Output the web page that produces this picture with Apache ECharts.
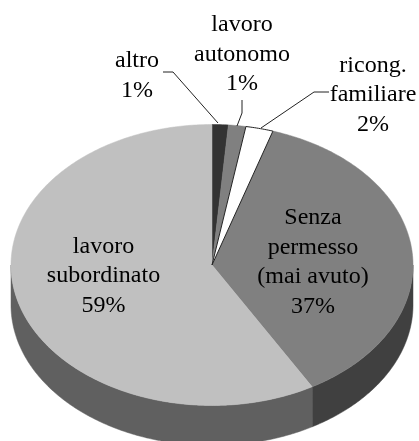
<!DOCTYPE html>
<html><head><meta charset="utf-8">
<style>html,body{margin:0;padding:0;background:#fff}#c{width:419px;height:441px}</style>
<script src="https://cdn.jsdelivr.net/npm/echarts@6/dist/echarts.min.js"></script></head>
<body><div id="c"></div>
<script>
const categories = ['altro','lavoro\nautonomo','ricong.\nfamiliare','Senza\npermesso\n(mai avuto)','lavoro\nsubordinato'];
const values = [1.3,1.4,2.2,36.8,58.3];
const percentLabels = ['1%','1%','2%','37%','59%'];
const topColors = ['#333333','#808080','#ffffff','#808080','#c0c0c0'];
const sideColors = ['#1a1a1a','#404040','#808080','#404040','#606060'];
const labelAt = [[137,75.5],[242,54.5],[373,95],[313,262],[103.5,276]];
const leaders = [[[163,72],[173,72],[218,123]],[[242,100],[242,113],[237,126]],[[329,92],[314,92],[261,128]],null,null];

const cx=212, cy=265, rx=201, ry=140.5, depth=40;
const total = values.reduce((a,b)=>a+b,0);
const pt=(t,dy=0)=>[cx+rx*Math.sin(t), cy-ry*Math.cos(t)+dy];
function arc(a,b,dy=0){const n=Math.max(2,Math.ceil((b-a)*90));const r=[];for(let i=0;i<=n;i++)r.push(pt(a+(b-a)*i/n,dy));return r;}

function renderItem(params,api){
  const i=params.dataIndex;
  let sum=0; for(let k=0;k<i;k++) sum+=values[k];
  const a=sum/total*2*Math.PI, b=(sum+values[i])/total*2*Math.PI;
  const kids=[];
  const wa=Math.max(a,Math.PI/2), wb=Math.min(b,Math.PI*1.5);
  if(wb>wa){
    kids.push({type:'polygon',z2:1,shape:{points:arc(wa,wb).concat(arc(wa,wb,depth).reverse())},style:{fill:sideColors[i],stroke:sideColors[i],lineWidth:0.5}});
  }
  const isWhite=topColors[i]==='#ffffff';
  kids.push({type:'polygon',z2:isWhite?4:3,shape:{points:[[cx,cy]].concat(arc(a,b))},style:{fill:topColors[i],stroke:isWhite?'#222':topColors[i],lineWidth:isWhite?1:0.5}});
  if(leaders[i]) kids.push({type:'polyline',z2:5,shape:{points:leaders[i]},style:{fill:null,stroke:'#222',lineWidth:1}});
  kids.push({type:'text',z2:6,style:{x:labelAt[i][0],y:labelAt[i][1],text:categories[i]+'\n'+percentLabels[i],align:'center',verticalAlign:'middle',fill:'#000',font:'24px "Liberation Serif"',lineHeight:29.5}});
  return {type:'group',children:kids};
}
const chart=echarts.init(document.getElementById('c'),null,{renderer:'canvas'});
chart.setOption({animation:false,series:[{type:'custom',coordinateSystem:'none',renderItem,data:values.map((v,i)=>[i,v])}]});
</script></body></html>
